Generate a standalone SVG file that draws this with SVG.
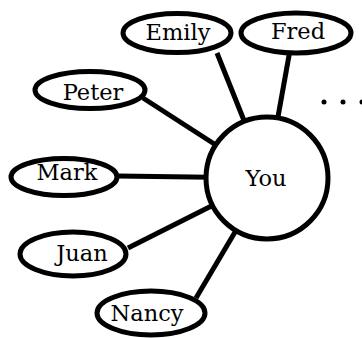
<svg xmlns="http://www.w3.org/2000/svg" width="362" height="338" viewBox="0 0 362 338">
<style>
.n{fill:#fff;stroke:#000;stroke-width:5}
.e line{stroke:#000;stroke-width:5}
text{font-family:"DejaVu Serif",serif;font-size:22.5px;fill:#000;text-anchor:middle}
</style>
<rect width="362" height="338" fill="#fff"/>
<g id="connectors" class="e">
<line x1="217" y1="53" x2="267" y2="178"/>
<line x1="290" y1="50" x2="267" y2="178"/>
<line x1="143" y1="98" x2="267" y2="178"/>
<line x1="117" y1="176" x2="267" y2="178"/>
<line x1="128" y1="248" x2="267" y2="178"/>
<line x1="196" y1="298" x2="267" y2="178"/>
</g>
<g id="you"><circle class="n" cx="267" cy="178" r="61"/><text x="266" y="186">You</text></g>
<g id="emily"><ellipse class="n" cx="177" cy="33" rx="54" ry="19.5"/><text x="178" y="40">Emily</text></g>
<g id="fred"><ellipse class="n" cx="296" cy="33" rx="55" ry="20"/><text x="298" y="39">Fred</text></g>
<g id="peter"><ellipse class="n" cx="90" cy="90" rx="55" ry="18.5"/><text x="93" y="100">Peter</text></g>
<g id="mark"><ellipse class="n" cx="64" cy="177" rx="53" ry="18.5"/><text x="67" y="180">Mark</text></g>
<g id="juan"><ellipse class="n" cx="73" cy="254" rx="53" ry="22"/><text x="82" y="261">Juan</text></g>
<g id="nancy"><ellipse class="n" cx="151" cy="313" rx="54" ry="22"/><text x="147" y="321">Nancy</text></g>
<g id="more"><circle cx="324" cy="102" r="2.5"/><circle cx="343" cy="102" r="2.5"/><circle cx="362" cy="102" r="2.5"/></g>
</svg>
